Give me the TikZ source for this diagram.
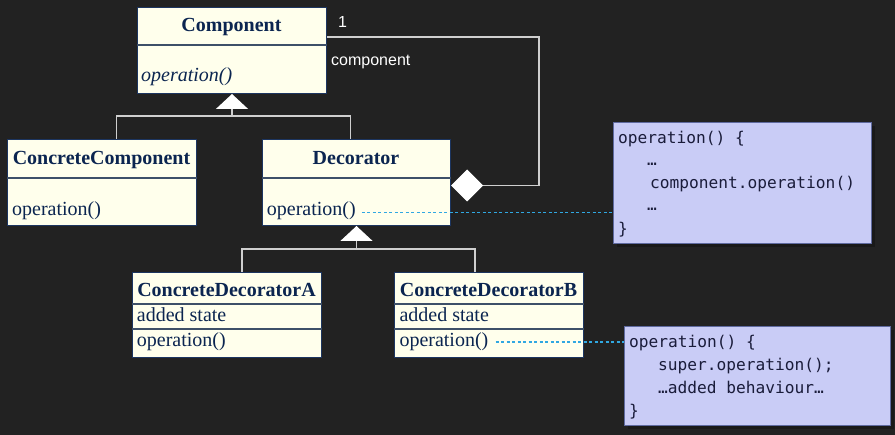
\documentclass[tikz,border=0pt]{standalone}
\usepackage{fontspec}
\setmainfont{Liberation Serif}
\newfontfamily\labelfont{Liberation Sans}
\newfontfamily\codefont{DejaVu Sans Mono}
\usetikzlibrary{arrows.meta,calc}
\definecolor{bg}{HTML}{222222}
\definecolor{boxfill}{HTML}{FFFFEC}
\definecolor{boxdraw}{HTML}{1C3560}
\definecolor{divline}{HTML}{3E5068}
\definecolor{txt}{HTML}{0B2550}
\definecolor{conncol}{HTML}{CFCFCF}
\definecolor{dotc}{HTML}{30A8E2}
\definecolor{notefill}{HTML}{C9CCF6}
\definecolor{notedraw}{HTML}{5F6AA0}
\definecolor{codetxt}{HTML}{1A1C3A}
\begin{document}
\begin{tikzpicture}[x=1pt,y=-1pt,
  classbox/.style={draw=boxdraw, fill=boxfill, line width=1pt, inner sep=0pt, anchor=north west},
  notebox/.style={draw=notedraw, fill=notefill, line width=1pt, inner sep=0pt, anchor=north west},
  divider/.style={draw=divline, line width=1.2pt},
  titletext/.style={font=\fontsize{20}{24}\selectfont\bfseries, text=txt, inner sep=0pt, anchor=base},
  member/.style={font=\fontsize{20}{24}\selectfont, text=txt, inner sep=0pt, anchor=base west},
  codeline/.style={font=\codefont\fontsize{16.2}{20}\selectfont, text=codetxt, inner sep=0pt, anchor=base west},
  lab/.style={font=\labelfont\fontsize{16}{19}\selectfont, text=white, inner sep=0pt, anchor=base west},
  conn/.style={draw=conncol, line width=1.2pt},
  gen/.style={conn, -{Triangle[length=15pt,width=32pt,fill=white,color=white]}},
  agg/.style={conn, -{Diamond[length=32pt,width=32pt,fill=white,color=white]}},
  dotline/.style={draw=dotc, line width=1.7pt, dash pattern=on 3pt off 2.5pt},
  shadowbox/.style={fill=black, opacity=0.25, inner sep=0pt, anchor=north west}
]
\useasboundingbox[fill=bg] (0,0) rectangle (895,435);

% class boxes
\node[classbox, minimum width=189pt, minimum height=86pt] (comp) at (137,7) {};
\node[classbox, minimum width=189pt, minimum height=86pt] (cc) at (7,139) {};
\node[classbox, minimum width=188pt, minimum height=86pt] (dec) at (262,139) {};
\node[classbox, minimum width=189pt, minimum height=85pt] (cda) at (132,272) {};
\node[classbox, minimum width=189pt, minimum height=85pt] (cdb) at (394,272) {};

\coordinate (y45) at (0,45);
\coordinate (y178) at (0,178);
\coordinate (y304) at (0,304);
\coordinate (y329) at (0,329);
\draw[divider] (comp.west |- y45) -- (comp.east |- y45);
\draw[divider] (cc.west |- y178) -- (cc.east |- y178);
\draw[divider] (dec.west |- y178) -- (dec.east |- y178);
\draw[divider] (cda.west |- y304) -- (cda.east |- y304);
\draw[divider] (cda.west |- y329) -- (cda.east |- y329);
\draw[divider] (cdb.west |- y304) -- (cdb.east |- y304);
\draw[divider] (cdb.west |- y329) -- (cdb.east |- y329);

% texts
\node[titletext] (compT) at (231.5,32) {Component};
\node[member, font=\fontsize{20}{24}\selectfont\itshape] (compOp) at (141,82) {operation()};
\node[titletext] (ccT) at (101.5,165) {ConcreteComponent};
\node[member] (ccOp) at (12,216) {operation()};
\node[titletext] (decT) at (356,165) {Decorator};
\node[member] (decOp) at (266.7,216) {operation()};
\node[titletext] (cdaT) at (226.5,296.7) {ConcreteDecoratorA};
\node[member] (cdaS) at (136.7,321.7) {added state};
\node[member] (cdaOp) at (136.7,347) {operation()};
\node[titletext] (cdbT) at (488.5,296.7) {ConcreteDecoratorB};
\node[member] (cdbS) at (399.3,321.7) {added state};
\node[member] (cdbOp) at (399.3,347) {operation()};

% generalization 1
\coordinate (j1) at ($(comp.south)+(0,22)$);
\draw[conn] ($(cc.north)+(14.5,0)$) |- (j1) -| ($(dec.north)+(-6,0)$);
\draw[gen] (j1) -- (comp.south);

% generalization 2
\coordinate (j2) at ($(dec.south)+(0,23)$);
\draw[conn] ($(cda.north)+(15,0)$) |- (j2) -| ($(cdb.north)+(-14,0)$);
\draw[gen] (j2) -- (dec.south);

% aggregation
\coordinate (y37) at (0,37);
\draw[agg] (comp.east |- y37) -| ($(dec.east)+(88,3)$) -- ($(dec.east)+(0,3)$);
\node[lab] (mult) at (338,28) {1};
\node[lab] (role) at (331,65.5) {component};

% notes
\node[shadowbox, minimum width=258pt, minimum height=121pt] (sh1) at (617,126) {};
\node[notebox, minimum width=258pt, minimum height=121pt] (note1) at (613,122) {};
\node[shadowbox, minimum width=266pt, minimum height=99pt] (sh2) at (628,330) {};
\node[notebox, minimum width=266pt, minimum height=99pt] (note2) at (624,326) {};

\node[codeline] (n1a) at (618,143.5) {operation() \{};
\node[codeline] (n1b) at (647,165.5) {…};
\node[codeline] (n1c) at (650,188.3) {component.operation()};
\node[codeline] (n1d) at (647,211) {…};
\node[codeline] (n1e) at (618,234.5) {\}};

\node[codeline] (n2a) at (629,348) {operation() \{};
\node[codeline] (n2b) at (658,371) {super.operation();};
\node[codeline] (n2c) at (658,394) {…added behaviour…};
\node[codeline] (n2d) at (629,417) {\}};

% dotted links
\coordinate (d1) at ($(decOp.base east)+(6,-3.4)$);
\draw[dotline] (d1) -- (d1 -| note1.west);
\coordinate (d2) at ($(cdbOp.base east)+(7,-5.3)$);
\draw[dotline] (d2) -- (d2 -| note2.west);
\end{tikzpicture}
\end{document}
